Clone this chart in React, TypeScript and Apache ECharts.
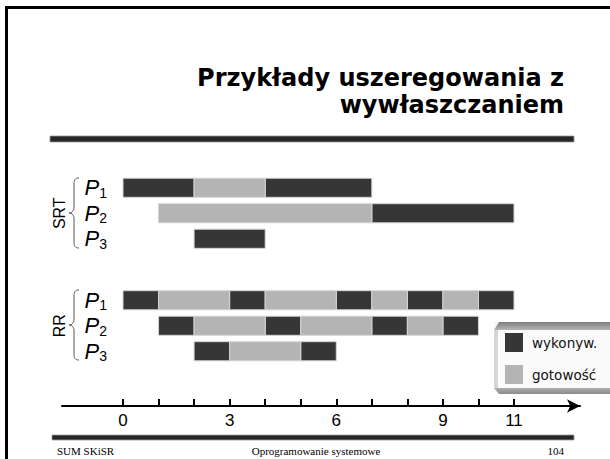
import React, { useEffect, useRef } from "react";
import * as echarts from "echarts";

const rows = ["P1", "P2", "P3"];
const groupNames = ["SRT", "RR"];
const stateNames = ["wykonyw.", "gotowość"];
const tickLabels = [0, 3, 6, 9, 11];
// [rowIndex, start, end]
const srtRunning = [[0, 0, 2], [0, 4, 7], [1, 7, 11], [2, 2, 4]];
const srtReady = [[0, 2, 4], [1, 1, 7]];
const rrRunning = [
  [0, 0, 1], [0, 3, 4], [0, 6, 7], [0, 8, 9], [0, 10, 11],
  [1, 1, 2], [1, 4, 5], [1, 7, 8], [1, 9, 10],
  [2, 2, 3], [2, 5, 6],
];
const rrReady = [
  [0, 1, 3], [0, 4, 6], [0, 7, 8], [0, 9, 10],
  [1, 2, 4], [1, 5, 7], [1, 8, 9],
  [2, 3, 5],
];
const titleLines = ["Przykłady uszeregowania z", "wywłaszczaniem"];
const footer = ["SUM SKiSR", "Oprogramowanie systemowe", "104"];

const DARK = "#363636";
const LIGHT = "#b4b4b4";

const braceD = "M10 0 C6 0 5 2 5 6 L5 29 C5 33 3 35 0 35 C3 35 5 37 5 41 L5 64 C5 68 6 70 10 70";
let registered = false;
function ensureShape() {
  if (registered) return;
  echarts.graphic.registerShape("brace", echarts.graphic.extendPath(braceD, {}));
  registered = true;
}

function renderItem(params: any, api: any) {
  const row = api.value(0);
  const s = api.value(1);
  const e = api.value(2);
  const p0 = api.coord([s, row]);
  const p1 = api.coord([e, row]);
  const h = api.size([0, 1])[1] * 0.75;
  return {
    type: "rect",
    shape: { x: p0[0], y: p0[1] - h / 2, width: p1[0] - p0[0], height: h },
    style: { fill: api.visual("color"), stroke: "#d4d4d4", lineWidth: 1 },
  };
}

function ganttSeries(name: string, data: number[][], color: string, gi: number) {
  return {
    type: "custom",
    name,
    xAxisIndex: gi,
    yAxisIndex: gi,
    itemStyle: { color },
    encode: { x: [1, 2], y: 0 },
    renderItem,
    data,
  };
}

const labelRich = {
  p: { fontFamily: "Liberation Sans", fontStyle: "italic", fontSize: 22, lineHeight: 22, color: "#000" },
  s: { fontFamily: "Liberation Sans", fontSize: 14, lineHeight: 14, padding: [10, 0, 0, 0], color: "#000" },
};

function procAxis(gi: number) {
  return {
    gridIndex: gi,
    type: "category",
    data: rows,
    inverse: true,
    axisLine: { show: false },
    axisTick: { show: false },
    splitLine: { show: false },
    axisLabel: {
      interval: 0,
      hideOverlap: false,
      margin: 16,
      formatter: (v: string) => `{p|${v[0]}}{s|${v.slice(1)}}`,
      rich: labelRich,
    },
    name: groupNames[gi],
    nameLocation: "middle",
    nameRotate: 90,
    nameGap: 56,
    nameTextStyle: { fontFamily: "Liberation Sans", fontSize: 16, color: "#000" },
  };
}

export default function App() {
  const ref = useRef<HTMLDivElement>(null);
  useEffect(() => {
    ensureShape();
    const chart = echarts.init(ref.current!, null, { renderer: "svg" });
    const option: any = {
      animation: false,
      backgroundColor: "#fff",
      grid: [
        { left: 123, right: 96, top: 175, height: 76.5 },
        { left: 123, right: 96, top: 287.5, height: 76.5 },
        { left: 123, right: 96, top: 399, height: 7 },
        { left: 62, right: 30, top: 400, height: 6 },
      ],
      xAxis: [
        { gridIndex: 0, type: "value", min: 0, max: 11, show: false },
        { gridIndex: 1, type: "value", min: 0, max: 11, show: false },
        {
          gridIndex: 2, type: "value", min: 0, max: 11, interval: 1,
          axisLine: { show: false, onZero: false },
          axisTick: { show: true, inside: true, length: 7, lineStyle: { color: "#000", width: 2 } },
          splitLine: { show: false },
          axisLabel: {
            margin: 6,
            fontFamily: "Liberation Sans",
            fontSize: 17,
            color: "#000",
            formatter: (v: number) => (tickLabels.includes(v) ? String(v) : ""),
          },
        },
        {
          gridIndex: 3, type: "value", min: 0, max: 1,
          axisLine: { show: true, onZero: false, symbol: ["none", "arrow"], symbolSize: [10, 13], lineStyle: { color: "#000", width: 2 } },
          axisTick: { show: false },
          axisLabel: { show: false },
          splitLine: { show: false },
        },
      ],
      yAxis: [
        procAxis(0),
        procAxis(1),
        { gridIndex: 2, type: "value", min: 0, max: 1, show: false },
        { gridIndex: 3, type: "value", min: 0, max: 1, show: false },
      ],
      legend: {
        data: stateNames,
        orient: "vertical",
        left: 505,
        top: 333,
        padding: 0,
        itemWidth: 18,
        itemHeight: 19,
        itemGap: 13,
        icon: "rect",
        selectedMode: false,
        itemStyle: { borderWidth: 0 },
        textStyle: { fontFamily: "DejaVu Sans", fontSize: 13.5, color: "#111", padding: [0, 0, 0, 4] },
      },
      series: [
        ganttSeries(stateNames[0], srtRunning, DARK, 0),
        ganttSeries(stateNames[1], srtReady, LIGHT, 0),
        ganttSeries(stateNames[0], rrRunning, DARK, 1),
        ganttSeries(stateNames[1], rrReady, LIGHT, 1),
      ],
      graphic: [
        { type: "line", shape: { x1: 5, y1: 7.5, x2: 610, y2: 7.5 }, style: { stroke: "#000", lineWidth: 3 } },
        { type: "line", shape: { x1: 6.5, y1: 6, x2: 6.5, y2: 459 }, style: { stroke: "#000", lineWidth: 3 } },
        {
          type: "text", x: 564, y: 78,
          style: { text: titleLines[0], align: "right", verticalAlign: "middle", font: "bold 24px 'DejaVu Sans'", fill: "#000" },
        },
        {
          type: "text", x: 564, y: 105,
          style: { text: titleLines[1], align: "right", verticalAlign: "middle", font: "bold 24px 'DejaVu Sans'", fill: "#000" },
        },
        { type: "rect", shape: { x: 50, y: 136, width: 524, height: 6 }, style: { fill: "#262626", stroke: "#999", lineWidth: 0.8 } },
        { type: "brace", x: 69, y: 178, style: { stroke: "#555", fill: "none", lineWidth: 1 } },
        { type: "brace", x: 69, y: 290, style: { stroke: "#555", fill: "none", lineWidth: 1 } },
        // legend bevel box
        { type: "rect", shape: { x: 494, y: 322, width: 120, height: 72 }, style: { fill: "#fafafa" } },
        { type: "rect", shape: { x: 494, y: 330, width: 4, height: 58 }, style: { fill: "#d6d6d6" } },
        {
          type: "polygon",
          shape: { points: [[494, 330], [499, 322], [610, 322], [610, 330]] },
          style: {
            fill: new echarts.graphic.LinearGradient(0, 0, 0, 1, [
              { offset: 0, color: "#7d7d7d" },
              { offset: 1, color: "#b5b5b5" },
            ]),
          },
        },
        {
          type: "polygon",
          shape: { points: [[494, 388], [610, 388], [610, 394], [499, 394]] },
          style: {
            fill: new echarts.graphic.LinearGradient(0, 0, 0, 1, [
              { offset: 0, color: "#b0b0b0" },
              { offset: 1, color: "#8a8a8a" },
            ]),
          },
        },
        { type: "rect", shape: { x: 52, y: 435, width: 522, height: 5 }, style: { fill: "#262626", stroke: "#999", lineWidth: 0.8 } },
        { type: "text", x: 57, y: 451, style: { text: footer[0], align: "left", verticalAlign: "middle", font: "11px 'Liberation Serif'", fill: "#000" } },
        { type: "text", x: 316, y: 451, style: { text: footer[1], align: "center", verticalAlign: "middle", font: "11px 'Liberation Serif'", fill: "#000" } },
        { type: "text", x: 564, y: 451, style: { text: footer[2], align: "right", verticalAlign: "middle", font: "11px 'Liberation Serif'", fill: "#000" } },
      ],
    };
    chart.setOption(option);
    return () => chart.dispose();
  }, []);
  return <div ref={ref} style={{ width: 610, height: 459, position: "absolute", left: 0, top: 0 }} />;
}
